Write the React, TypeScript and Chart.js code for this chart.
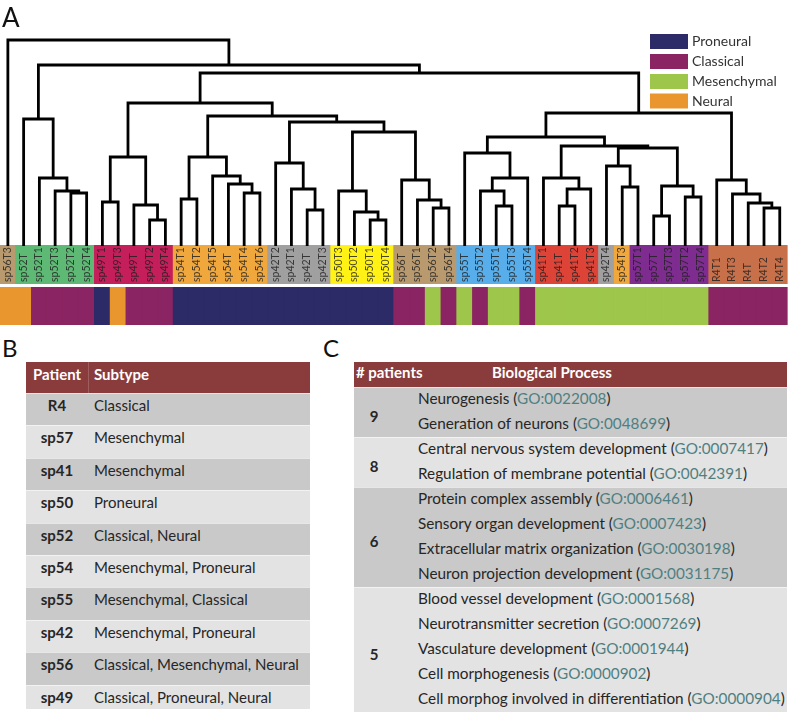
import React, { useEffect, useRef } from 'react';
import { Chart, registerables } from 'chart.js';

Chart.register(...registerables);

// ---------------- data ----------------
const leafLabels = [
  'sp56T3', 'sp52T', 'sp52T1', 'sp52T3', 'sp52T2', 'sp52T4',
  'sp49T1', 'sp49T3', 'sp49T', 'sp49T2', 'sp49T4',
  'sp54T1', 'sp54T2', 'sp54T5', 'sp54T', 'sp54T4', 'sp54T6',
  'sp42T2', 'sp42T1', 'sp42T', 'sp42T3',
  'sp50T3', 'sp50T2', 'sp50T1', 'sp50T4',
  'sp56T', 'sp56T1', 'sp56T2', 'sp56T4',
  'sp55T', 'sp55T2', 'sp55T1', 'sp55T3', 'sp55T4',
  'sp41T1', 'sp41T', 'sp41T2', 'sp41T3',
  'sp42T4', 'sp54T3',
  'sp57T1', 'sp57T', 'sp57T3', 'sp57T2', 'sp57T4',
  'R4T1', 'R4T3', 'R4T', 'R4T2', 'R4T4',
];

const leafSubtypes = [
  'Neural', 'Neural', 'Classical', 'Classical', 'Classical', 'Classical',
  'Proneural', 'Neural', 'Classical', 'Classical', 'Classical',
  'Proneural', 'Proneural', 'Proneural', 'Proneural', 'Proneural', 'Proneural',
  'Proneural', 'Proneural', 'Proneural', 'Proneural',
  'Proneural', 'Proneural', 'Proneural', 'Proneural',
  'Classical', 'Classical', 'Mesenchymal', 'Classical',
  'Mesenchymal', 'Classical', 'Mesenchymal', 'Mesenchymal', 'Classical',
  'Mesenchymal', 'Mesenchymal', 'Mesenchymal', 'Mesenchymal',
  'Mesenchymal', 'Mesenchymal',
  'Mesenchymal', 'Mesenchymal', 'Mesenchymal', 'Mesenchymal', 'Mesenchymal',
  'Classical', 'Classical', 'Classical', 'Classical', 'Classical',
];

const patients = ['sp56', 'sp52', 'sp49', 'sp54', 'sp42', 'sp50', 'sp55', 'sp41', 'sp57', 'R4'];
const patientColors = ['#B99A6E', '#5EB975', '#C51F5B', '#F0A73C', '#A0A0A0', '#FFF214', '#58AEEA', '#DE4337', '#7E2C90', '#C8704A'];

const subtypeNames = ['Proneural', 'Classical', 'Mesenchymal', 'Neural'];
const subtypeColors = ['#2C2B67', '#8B2462', '#9DC64B', '#E9962F'];

// linkage: [childA, childB, height]; ids < 50 are leaves, id 50+k is merge k
const merges: [number, number, number][] = [
  [4, 5, 0.53], [3, 50, 0.55], [2, 51, 0.68], [1, 52, 1.27],
  [6, 7, 0.44], [9, 10, 0.26], [8, 55, 0.41], [54, 56, 0.89],
  [11, 12, 0.47], [15, 16, 0.53], [14, 59, 0.62], [13, 60, 0.70], [58, 61, 0.89],
  [19, 20, 0.36], [18, 63, 0.57], [17, 64, 0.83],
  [23, 24, 0.26], [22, 66, 0.34], [21, 67, 0.55],
  [27, 28, 0.38], [26, 69, 0.46], [25, 70, 0.66],
  [68, 71, 1.14], [65, 72, 1.24], [62, 73, 1.30], [57, 74, 1.43],
  [31, 32, 0.40], [30, 76, 0.55], [77, 33, 0.68], [29, 78, 0.93],
  [35, 36, 0.40], [80, 37, 0.57], [34, 81, 0.68],
  [39, 40, 0.59], [38, 83, 0.80],
  [41, 42, 0.30], [43, 44, 0.49], [85, 86, 0.60], [84, 87, 0.98],
  [82, 88, 1.00], [79, 89, 1.09],
  [48, 49, 0.38], [47, 91, 0.43], [46, 92, 0.52], [45, 93, 0.66],
  [90, 94, 1.33], [75, 95, 1.73], [53, 96, 1.81], [0, 97, 2.06],
];

const tablePatients = ['R4', 'sp57', 'sp41', 'sp50', 'sp52', 'sp54', 'sp55', 'sp42', 'sp56', 'sp49'];
const tableSubtypes = [
  'Classical', 'Mesenchymal', 'Mesenchymal', 'Proneural', 'Classical, Neural',
  'Mesenchymal, Proneural', 'Mesenchymal, Classical', 'Mesenchymal, Proneural',
  'Classical, Mesenchymal, Neural', 'Classical, Proneural, Neural',
];

const bpCounts = [9, 8, 6, 5];
const bpTerms = [
  ['Neurogenesis', 'Generation of neurons'],
  ['Central nervous system development', 'Regulation of membrane potential'],
  ['Protein complex assembly', 'Sensory organ development', 'Extracellular matrix organization', 'Neuron projection development'],
  ['Blood vessel development', 'Neurotransmitter secretion', 'Vasculature development', 'Cell morphogenesis', 'Cell morphog involved in differentiation'],
];
const bpGoIds = [
  ['GO:0022008', 'GO:0048699'],
  ['GO:0007417', 'GO:0042391'],
  ['GO:0006461', 'GO:0007423', 'GO:0030198', 'GO:0031175'],
  ['GO:0001568', 'GO:0007269', 'GO:0001944', 'GO:0000902', 'GO:0000904'],
];

// ---------------- layout constants ----------------
const LABEL_TOP = 0.01;
const LABEL_BOTTOM = -0.38;
const LABEL_TEXT_BASE = -0.36;
const SUB_TOP = -0.41;
const SUB_BOTTOM = -0.79;

const HEADER_RED = '#8A3B3B';
const DARK_ROW = '#C9C9C9';
const LIGHT_ROW = '#E3E3E3';
const TEXT = '#262626';
const GO_COLOR = '#4F8081';
const FONT = 'Lato, "Open Sans", sans-serif';

function patientOf(label: string) {
  const m = label.match(/^(sp\d+|R4)/);
  return m ? m[1] : label;
}

function buildConfig() {
  const nodeX: number[] = leafLabels.map((_, i) => i + 1);
  const nodeH: number[] = leafLabels.map(() => 0);
  const linkSets = merges.map(([a, b, h]) => {
    const xa = nodeX[a];
    const xb = nodeX[b];
    const ds = {
      type: 'scatter' as const,
      data: [
        { x: xa, y: nodeH[a] },
        { x: xa, y: h },
        { x: xb, y: h },
        { x: xb, y: nodeH[b] },
      ],
      showLine: true,
      borderColor: '#000',
      borderWidth: 2.8,
      borderJoinStyle: 'miter' as const,
      borderCapStyle: 'butt' as const,
      pointRadius: 0,
      fill: false,
      tension: 0,
      order: 0,
      clip: false as any,
    };
    nodeX.push((xa + xb) / 2);
    nodeH.push(h);
    return ds;
  });

  const labelBars = {
    type: 'bar' as const,
    data: leafLabels.map((_, i) => ({ x: i + 1, y: [LABEL_TOP, LABEL_BOTTOM] })),
    backgroundColor: leafLabels.map((l) => patientColors[patients.indexOf(patientOf(l))]),
    borderWidth: 0,
    barPercentage: 1.06,
    categoryPercentage: 1,
    grouped: false,
    order: 2,
  };
  const subtypeBars = {
    type: 'bar' as const,
    data: leafSubtypes.map((_, i) => ({ x: i + 1, y: [SUB_TOP, SUB_BOTTOM] })),
    backgroundColor: leafSubtypes.map((s) => subtypeColors[subtypeNames.indexOf(s)]),
    borderWidth: 0,
    barPercentage: 1.06,
    categoryPercentage: 1,
    grouped: false,
    order: 2,
  };

  const overlay = {
    id: 'overlay',
    afterDatasetsDraw(chart: any) {
      const ctx = chart.ctx as CanvasRenderingContext2D;
      const xs = chart.scales.x;
      const ys = chart.scales.y;
      ctx.save();
      ctx.font = `10.5px ${FONT}`;
      ctx.fillStyle = 'rgba(30,30,30,0.82)';
      ctx.textAlign = 'left';
      ctx.textBaseline = 'middle';
      leafLabels.forEach((lab, i) => {
        const px = xs.getPixelForValue(i + 1);
        const py = ys.getPixelForValue(LABEL_TEXT_BASE);
        ctx.save();
        ctx.translate(px - 0.5, py);
        ctx.rotate(-Math.PI / 2);
        ctx.fillText(lab, 0, 0);
        ctx.restore();
      });
      // legend
      const boxX = 650;
      const boxW = 38;
      const boxH = 15;
      const tops = [34, 54, 74, 93.5];
      ctx.font = `14px ${FONT}`;
      subtypeNames.forEach((name, i) => {
        ctx.fillStyle = subtypeColors[i];
        ctx.fillRect(boxX, tops[i], boxW, boxH);
        ctx.fillStyle = '#333';
        ctx.fillText(name, boxX + boxW + 4, tops[i] + boxH / 2);
      });
      ctx.restore();
    },
  };

  return {
    type: 'scatter' as const,
    data: { datasets: [labelBars, subtypeBars, ...linkSets] as any[] },
    options: {
      responsive: false,
      animation: false as const,
      events: [] as any[],
      layout: { padding: { left: 0, right: 4.375, top: 30, bottom: 7 } },
      scales: {
        x: { type: 'linear' as const, min: 0.5, max: 50.5, display: false, offset: false },
        y: { type: 'linear' as const, min: SUB_BOTTOM, max: 2.16, display: false },
      },
      plugins: {
        legend: { display: false },
        tooltip: { enabled: false },
      },
    },
    plugins: [overlay],
  };
}

export default function App() {
  const ref = useRef<HTMLCanvasElement>(null);
  useEffect(() => {
    const chart = new Chart(ref.current as HTMLCanvasElement, buildConfig() as any);
    return () => chart.destroy();
  }, []);

  const abs = (s: React.CSSProperties): React.CSSProperties => ({ position: 'absolute', ...s });

  const bRowH = 32.4;
  const bTop = 393;

  const cLine0 = 399;
  const cLineH = 25;
  const groupBounds = [387, 437, 487, 587, 712];
  let lineIdx = 0;

  return (
    <div style={{ position: 'fixed', left: 0, top: 0, width: 792, height: 717, background: '#fff', overflow: 'hidden', fontFamily: FONT, color: TEXT }}>
      <canvas ref={ref} width={792} height={332} style={abs({ left: 0, top: 0, width: 792, height: 332 })} />

      <div style={abs({ left: 2, top: 4, fontSize: 26, lineHeight: '26px', color: '#111' })}>A</div>
      <div style={abs({ left: 2, top: 336, fontSize: 24, lineHeight: '24px', color: '#111' })}>B</div>
      <div style={abs({ left: 323, top: 336, fontSize: 24, lineHeight: '24px', color: '#111' })}>C</div>

      {/* Table B */}
      <div style={abs({ left: 26, top: 362, width: 284, height: 31, background: HEADER_RED, color: '#fff', fontWeight: 700, fontSize: 15 })}>
        <div style={abs({ left: 62, top: 0, width: 1, height: 31, background: 'rgba(255,255,255,0.18)' })} />
        <div style={abs({ left: 7, top: 2, lineHeight: '20px' })}>Patient</div>
        <div style={abs({ left: 68, top: 2, lineHeight: '20px' })}>Subtype</div>
      </div>
      {tablePatients.map((p, i) => {
        const top = bTop + i * bRowH;
        const h = i === tablePatients.length - 1 ? 709 - top : bRowH;
        return (
          <div key={p} style={abs({ left: 26, top, width: 284, height: h, background: i % 2 === 0 ? DARK_ROW : LIGHT_ROW, borderTop: '1px solid rgba(255,255,255,0.55)', boxSizing: 'border-box', fontSize: 15 })}>
            <div style={abs({ left: 0, width: 62, top: 1, lineHeight: '20px', textAlign: 'center', fontWeight: 700 })}>{p}</div>
            <div style={abs({ left: 68, top: 1, lineHeight: '20px', whiteSpace: 'nowrap' })}>{tableSubtypes[i]}</div>
          </div>
        );
      })}

      {/* Table C */}
      <div style={abs({ left: 354, top: 362, width: 433, height: 25, background: HEADER_RED, color: '#fff', fontWeight: 700, fontSize: 15 })}>
        <div style={abs({ left: 2, top: 0, lineHeight: '20px', whiteSpace: 'nowrap' })}># patients</div>
        <div style={abs({ left: 138, top: 0, lineHeight: '20px', whiteSpace: 'nowrap' })}>Biological Process</div>
      </div>
      {bpCounts.map((c, g) => {
        const top = groupBounds[g];
        const h = groupBounds[g + 1] - top;
        return (
          <div key={'g' + c} style={abs({ left: 354, top, width: 433, height: h, background: g % 2 === 0 ? DARK_ROW : LIGHT_ROW, borderTop: '1px solid rgba(255,255,255,0.55)', boxSizing: 'border-box' })}>
            <div style={abs({ left: 0, width: 40, top: h / 2 - 7, lineHeight: '20px', textAlign: 'center', fontWeight: 700, fontSize: 15 })}>{c}</div>
          </div>
        );
      })}
      {bpTerms.map((terms, g) =>
        terms.map((t, j) => {
          const y = cLine0 + cLineH * lineIdx;
          lineIdx += 1;
          return (
            <div key={t} style={abs({ left: 418, top: y - 11, lineHeight: '20px', fontSize: 15.3, whiteSpace: 'nowrap' })}>
              {t} (<span style={{ color: GO_COLOR }}>{bpGoIds[g][j]}</span>)
            </div>
          );
        })
      )}
    </div>
  );
}
